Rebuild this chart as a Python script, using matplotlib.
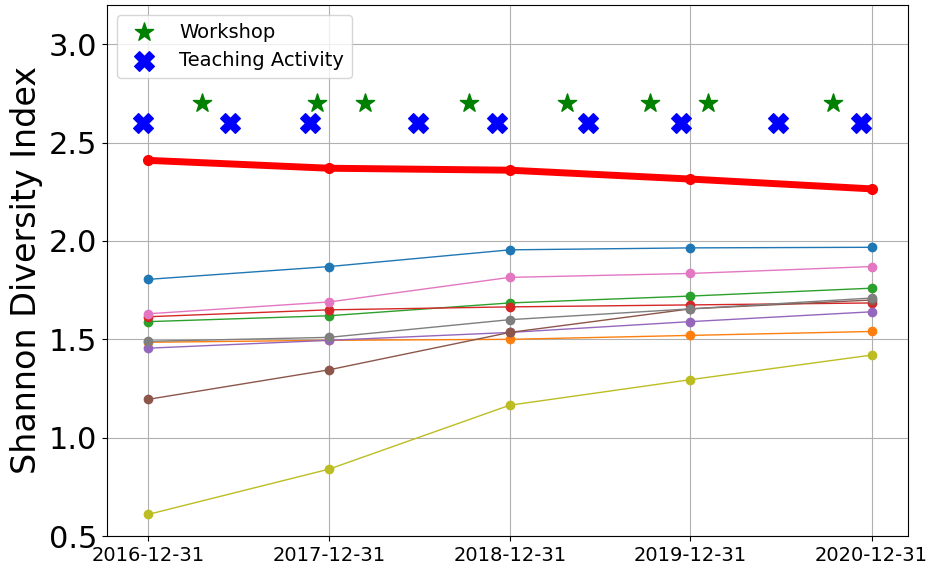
import datetime
import matplotlib
matplotlib.use("Agg")
import matplotlib.pyplot as plt
import matplotlib.dates as mdates

# yearly snapshot dates
dates = [datetime.date(2016, 12, 31), datetime.date(2017, 12, 31),
         datetime.date(2018, 12, 31), datetime.date(2019, 12, 31),
         datetime.date(2020, 12, 31)]

# per-group diversity series (tab10 order)
series = [
    [1.805, 1.870, 1.955, 1.965, 1.968],  # blue
    [1.485, 1.495, 1.500, 1.520, 1.540],  # orange
    [1.590, 1.620, 1.685, 1.720, 1.760],  # green
    [1.615, 1.650, 1.665, 1.675, 1.685],  # red
    [1.455, 1.495, 1.535, 1.590, 1.640],  # purple
    [1.195, 1.345, 1.535, 1.655, 1.700],  # brown
    [1.630, 1.690, 1.815, 1.835, 1.870],  # pink
    [1.490, 1.510, 1.600, 1.655, 1.710],  # gray
    [0.610, 0.840, 1.165, 1.295, 1.420],  # olive
]
overall = [2.410, 2.370, 2.360, 2.315, 2.265]

workshop_dates = [datetime.date(2017, 4, 19), datetime.date(2017, 12, 6),
                  datetime.date(2018, 3, 14), datetime.date(2018, 10, 10),
                  datetime.date(2019, 4, 25), datetime.date(2019, 10, 10),
                  datetime.date(2020, 2, 5), datetime.date(2020, 10, 14)]
teaching_dates = [datetime.date(2016, 12, 21), datetime.date(2017, 6, 13),
                  datetime.date(2017, 11, 23), datetime.date(2018, 6, 28),
                  datetime.date(2018, 12, 6), datetime.date(2019, 6, 7),
                  datetime.date(2019, 12, 12), datetime.date(2020, 6, 25),
                  datetime.date(2020, 12, 9)]
workshop_y = 2.7
teaching_y = 2.6

fig = plt.figure(figsize=(9.31, 5.70), dpi=100)
ax = fig.add_axes([107 / 931, 34 / 570, 801 / 931, 531 / 570])

for vals in series:
    ax.plot(dates, vals, marker='o', linewidth=1, markersize=6)

ax.plot(dates, overall, color='red', marker='o', linewidth=5, markersize=7)

ax.scatter(workshop_dates, [workshop_y] * len(workshop_dates), marker='*',
           color='green', s=190, label='Workshop', zorder=3)
ax.scatter(teaching_dates, [teaching_y] * len(teaching_dates), marker='X',
           color='blue', s=200, label='Teaching Activity', zorder=3)

ax.set_ylim(0.5, 3.2)
ax.set_xticks(dates)
ax.xaxis.set_major_formatter(mdates.DateFormatter('%Y-%m-%d'))
ax.tick_params(axis='x', labelsize=14)
ax.tick_params(axis='y', labelsize=22)
ax.set_ylabel('Shannon Diversity Index', fontsize=24)
ax.grid(True)
ax.legend(loc='upper left', fontsize=14)

fig.savefig('out.png', dpi=100)
